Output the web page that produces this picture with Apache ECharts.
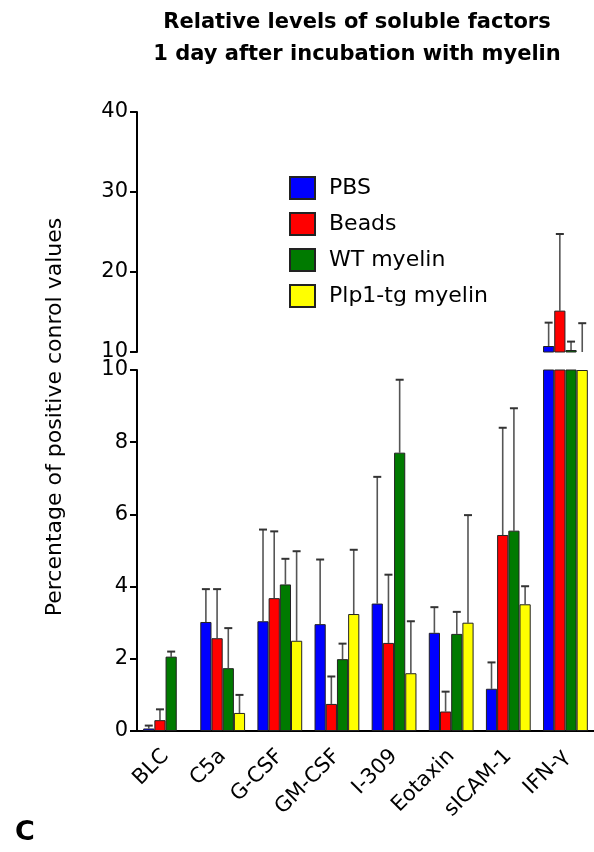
<!DOCTYPE html>
<html>
<head>
<meta charset="utf-8">
<script src="https://cdn.jsdelivr.net/npm/echarts@6/dist/echarts.min.js"></script>
<style>
  html, body { margin: 0; padding: 0; background: #fff; }
  #chart { width: 594px; height: 852px; }
</style>
</head>
<body>
<div id="chart"></div>
<script>
// Soluble factor levels, one day after incubation (mean and upper error per group)
const categories = ['BLC', 'C5a', 'G-CSF', 'GM-CSF', 'I-309', 'Eotaxin', 'sICAM-1', 'IFN-\u03B3'];
const groupNames = ['PBS', 'Beads', 'WT myelin', 'Plp1-tg myelin'];
const groupColors = ['#0000ff', '#ff0000', '#007a00', '#ffff00'];

const pbsMean   = [0.07, 3.02, 3.04, 2.96, 3.53, 2.72, 1.17, 10.75];
const pbsErr    = [0.08, 0.91, 2.54, 1.79, 3.51, 0.71, 0.73, 2.92];
const beadsMean = [0.30, 2.57, 3.68, 0.75, 2.44, 0.54, 5.43, 15.17];
const beadsErr  = [0.30, 1.36, 1.85, 0.76, 1.89, 0.55, 2.97, 9.58];
const wtMean    = [2.06, 1.74, 4.06, 1.99, 7.71, 2.69, 5.55, 10.25];
const wtErr     = [0.14, 1.11, 0.71, 0.43, 2.02, 0.61, 3.39, 1.05];
const plpMean   = [null, 0.50, 2.50, 3.24, 1.60, 3.00, 3.51, 10.00];
const plpErr    = [null, 0.50, 2.48, 1.78, 1.44, 2.98, 0.50, 3.60];

// Broken value axis: lower segment 0-10, upper segment 10-40
const lowerTicks = { min: 0, max: 10, interval: 2 };
const upperTicks = { min: 10, max: 40, interval: 10 };

const means = [pbsMean, beadsMean, wtMean, plpMean];
const errs = [pbsErr, beadsErr, wtErr, plpErr];

const BAR_W = 11.2;
const FONT = 'DejaVu Sans';

const chart = echarts.init(document.getElementById('chart'), null, { renderer: 'canvas' });

function errorRenderer(groupIdx, lo, hi) {
  return function (params, api) {
    const cat = api.value(0);
    const m = api.value(1);
    const e = api.value(2);
    if (m == null || isNaN(m) || e == null || isNaN(e)) return;
    const top = m + e;
    if (top <= lo) return;
    const y0 = api.coord([cat, Math.max(m, lo)])[1];
    const y1 = api.coord([cat, Math.min(top, hi)])[1];
    const x = api.coord([cat, lo])[0] + (groupIdx - 1.5) * BAR_W;
    const children = [{
      type: 'line',
      shape: { x1: x, y1: y0, x2: x, y2: y1 },
      style: { stroke: '#555', lineWidth: 1.6 }
    }];
    if (top <= hi) {
      children.push({
        type: 'line',
        shape: { x1: x - 4, y1: y1, x2: x + 4, y2: y1 },
        style: { stroke: '#333', lineWidth: 2 }
      });
    }
    return { type: 'group', children: children };
  };
}

const series = [];
[0, 1].forEach(function (g) {
  const rng = g === 0 ? upperTicks : lowerTicks;
  groupNames.forEach(function (name, i) {
    series.push({
      type: 'bar',
      name: name,
      xAxisIndex: g,
      yAxisIndex: g,
      data: means[i],
      barWidth: BAR_W,
      barGap: '0%',
      clip: true,
      itemStyle: { color: groupColors[i], borderColor: '#222', borderWidth: 1 },
      emphasis: { disabled: true },
      z: 2
    });
  });
  groupNames.forEach(function (name, i) {
    series.push({
      type: 'custom',
      name: name + ' error',
      xAxisIndex: g,
      yAxisIndex: g,
      data: categories.map(function (c, k) { return [k, means[i][k], errs[i][k]]; }),
      renderItem: errorRenderer(i, rng.min, rng.max),
      clip: true,
      silent: true,
      z: 1
    });
  });
});

const axisLineStyle = { color: '#000', width: 2 };

const option = {
  backgroundColor: '#fff',
  animation: false,
  title: {
    text: 'Relative levels of soluble factors\n1 day after incubation with myelin',
    left: 352,
    top: 2,
    textAlign: 'center',
    textStyle: { fontFamily: FONT, fontSize: 21, fontWeight: 'bold', color: '#000', lineHeight: 32 }
  },
  legend: {
    data: groupNames,
    orient: 'vertical',
    left: 284,
    top: 171,
    itemWidth: 25,
    itemHeight: 22,
    itemGap: 12,
    icon: 'rect',
    textStyle: { fontFamily: FONT, fontSize: 22, color: '#000', padding: [0, 0, 0, 9] },
    selectedMode: false
  },
  grid: [
    { left: 137, top: 112, width: 458, height: 240 },
    { left: 137, top: 370, width: 458, height: 361 }
  ],
  xAxis: [
    { type: 'category', gridIndex: 0, data: categories, show: false },
    {
      type: 'category', gridIndex: 1, data: categories,
      axisLine: { lineStyle: axisLineStyle },
      axisTick: { alignWithLabel: true, length: 7, lineStyle: axisLineStyle },
      axisLabel: { rotate: 45, fontFamily: FONT, fontSize: 21, color: '#000', margin: 22, interval: 0 }
    }
  ],
  yAxis: [
    {
      type: 'value', gridIndex: 0, min: upperTicks.min, max: upperTicks.max, interval: upperTicks.interval,
      axisLine: { show: true, lineStyle: axisLineStyle },
      axisTick: { show: true, length: 7, lineStyle: axisLineStyle },
      axisLabel: { fontFamily: FONT, fontSize: 21, color: '#000', margin: 9 },
      splitLine: { show: false }
    },
    {
      type: 'value', gridIndex: 1, min: lowerTicks.min, max: lowerTicks.max, interval: lowerTicks.interval,
      axisLine: { show: true, lineStyle: axisLineStyle },
      axisTick: { show: true, length: 7, lineStyle: axisLineStyle },
      axisLabel: { fontFamily: FONT, fontSize: 21, color: '#000', margin: 9 },
      splitLine: { show: false }
    }
  ],
  graphic: [
    {
      type: 'text',
      x: 55, y: 417,
      rotation: Math.PI / 2,
      style: {
        text: 'Percentage of positive conrol values',
        font: '22px "DejaVu Sans"',
        fill: '#000',
        align: 'center',
        verticalAlign: 'middle'
      }
    },
    {
      type: 'text',
      left: 15, top: 819,
      style: { text: 'C', font: 'bold 27px "DejaVu Sans"', fill: '#000' }
    }
  ],
  series: series
};

chart.setOption(option);
</script>
</body>
</html>
